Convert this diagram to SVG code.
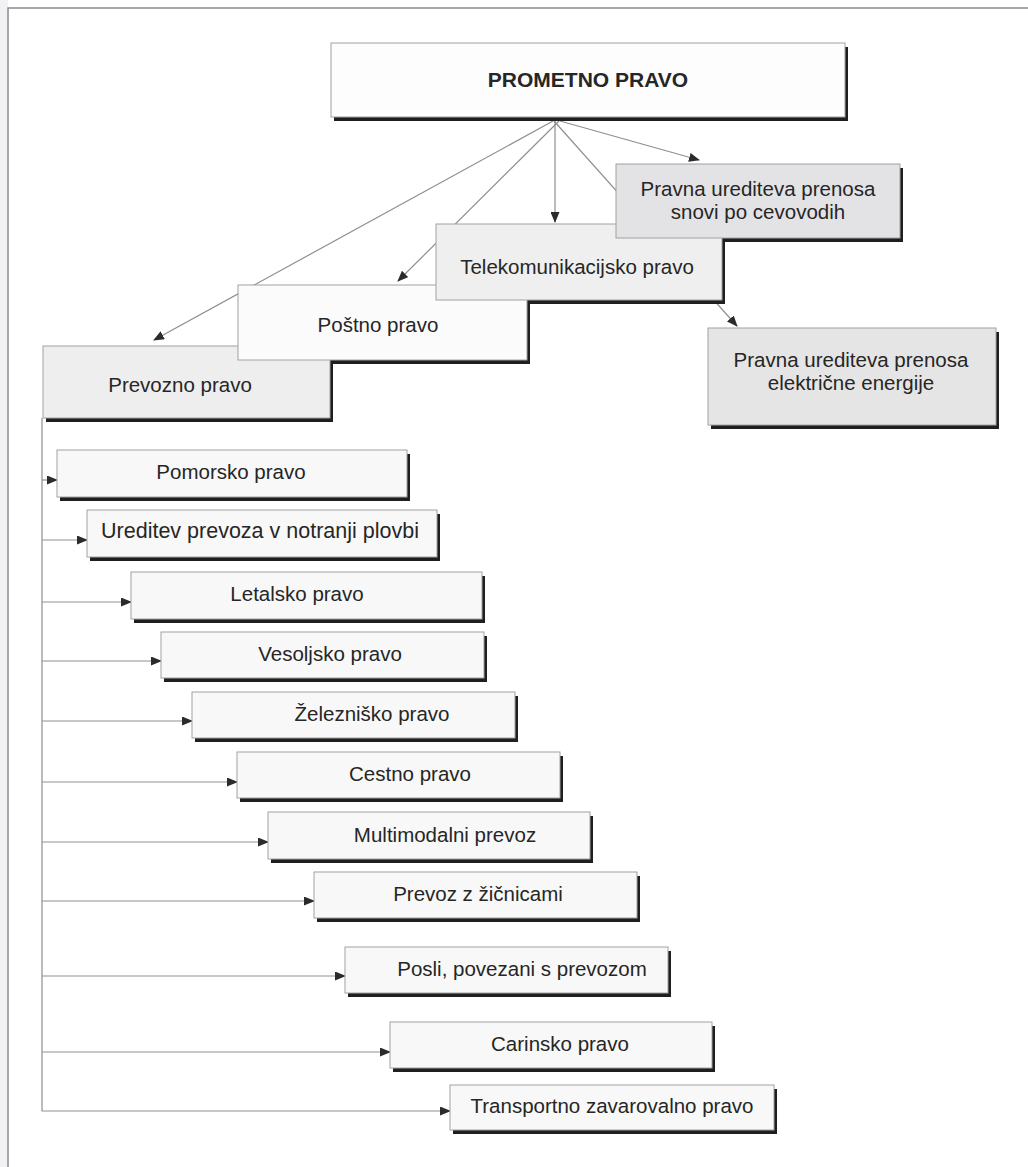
<svg xmlns="http://www.w3.org/2000/svg" width="1028" height="1167" viewBox="0 0 1028 1167">
<defs>
<marker id="ah" markerWidth="11" markerHeight="9" refX="10" refY="4.5" orient="auto" markerUnits="userSpaceOnUse"><path d="M0,0 L11,4.5 L0,9 z" fill="#2b2b2b"/></marker>
</defs>
<style>
.bx{stroke:#a2a2a2;stroke-width:1}
.sh{fill:#1f1f1f}
.t{font-family:"Liberation Sans",Arial,sans-serif;font-size:20.5px;fill:#262626;text-anchor:middle}
.tb{font-weight:bold;font-size:21px}
.cn{fill:none;stroke:#8f8f8f;stroke-width:1.2}
.ca{marker-end:url(#ah)}
</style>
<rect width="1028" height="1167" fill="#ffffff"/>
<rect x="0" y="0" width="8" height="1167" fill="#f2f2f5"/>
<path d="M8,1167 V8 H1028" fill="none" stroke="#8c8c8c" stroke-width="1.5"/>
<g id="connectors">
<path class="cn ca" d="M553,121 L154,340"/>
<path class="cn ca" d="M559,121 L398,281"/>
<path class="cn ca" d="M555,121 L555,222"/>
<path class="cn ca" d="M554,121 L737,326"/>
<path class="cn ca" d="M560,121 L699,160"/>
<path class="cn ca" d="M42,418 V1111 H450"/>
<path class="cn ca" d="M42,480 H57"/>
<path class="cn ca" d="M42,540 H87"/>
<path class="cn ca" d="M42,602 H131"/>
<path class="cn ca" d="M42,661 H161"/>
<path class="cn ca" d="M42,721 H192"/>
<path class="cn ca" d="M42,782 H237"/>
<path class="cn ca" d="M42,842 H268"/>
<path class="cn ca" d="M42,901 H314"/>
<path class="cn ca" d="M42,976 H345"/>
<path class="cn ca" d="M42,1052 H390"/>
</g>
<g id="shadows">
<rect class="sh" x="334" y="47" width="514" height="74"/>
<rect class="sh" x="619" y="168" width="284" height="74"/>
<rect class="sh" x="439" y="228" width="286" height="76"/>
<rect class="sh" x="241" y="289" width="289" height="75"/>
<rect class="sh" x="46" y="350" width="287" height="72"/>
<rect class="sh" x="711" y="332" width="288" height="97"/>
<rect class="sh" x="60" y="454" width="350" height="47"/>
<rect class="sh" x="90" y="514" width="350" height="47"/>
<rect class="sh" x="134" y="576" width="351" height="47"/>
<rect class="sh" x="164" y="636" width="323" height="46"/>
<rect class="sh" x="195" y="696" width="323" height="46"/>
<rect class="sh" x="240" y="756" width="323" height="46"/>
<rect class="sh" x="271" y="816" width="322" height="47"/>
<rect class="sh" x="317" y="876" width="323" height="46"/>
<rect class="sh" x="348" y="951" width="323" height="46"/>
<rect class="sh" x="393" y="1026" width="322" height="46"/>
<rect class="sh" x="453" y="1089" width="324" height="45"/>
</g>
<g id="n-prometno"><rect class="bx" x="331" y="43" width="514" height="74" fill="#fdfdfd"/><text class="t tb" x="588" y="87">PROMETNO PRAVO</text></g>
<g id="n-prevozno"><rect class="bx" x="43" y="346" width="287" height="72" fill="#eeeeee"/><text class="t" x="180" y="392">Prevozno pravo</text></g>
<g id="n-postno"><rect class="bx" x="238" y="285" width="289" height="75" fill="#fbfbfb"/><text class="t" x="378" y="332">Poštno pravo</text></g>
<g id="n-telekom"><rect class="bx" x="436" y="224" width="286" height="76" fill="#efefef"/><text class="t" x="577" y="274">Telekomunikacijsko pravo</text></g>
<g id="n-cevovodi"><rect class="bx" x="616" y="164" width="284" height="74" fill="#e3e3e5"/><text class="t" x="758" y="196">Pravna urediteva prenosa</text><text class="t" x="758" y="219">snovi po cevovodih</text></g>
<g id="n-elektrika"><rect class="bx" x="708" y="328" width="288" height="97" fill="#e5e5e5"/><text class="t" x="851" y="367">Pravna urediteva prenosa</text><text class="t" x="851" y="390">električne energije</text></g>
<g id="n-pomorsko"><rect class="bx" x="57" y="450" width="350" height="47" fill="#f8f8f8"/><text class="t" x="231" y="479">Pomorsko pravo</text></g>
<g id="n-ureditev"><rect class="bx" x="87" y="510" width="350" height="47" fill="#f8f8f8"/><text class="t" x="260" y="538" style="font-size:21.5px">Ureditev prevoza v notranji plovbi</text></g>
<g id="n-letalsko"><rect class="bx" x="131" y="572" width="351" height="47" fill="#f8f8f8"/><text class="t" x="297" y="601">Letalsko pravo</text></g>
<g id="n-vesoljsko"><rect class="bx" x="161" y="632" width="323" height="46" fill="#f8f8f8"/><text class="t" x="330" y="661">Vesoljsko pravo</text></g>
<g id="n-zelezni"><rect class="bx" x="192" y="692" width="323" height="46" fill="#f8f8f8"/><text class="t" x="372" y="721">Železniško pravo</text></g>
<g id="n-cestno"><rect class="bx" x="237" y="752" width="323" height="46" fill="#f8f8f8"/><text class="t" x="410" y="781">Cestno pravo</text></g>
<g id="n-multi"><rect class="bx" x="268" y="812" width="322" height="47" fill="#f8f8f8"/><text class="t" x="445" y="842">Multimodalni prevoz</text></g>
<g id="n-zicnice"><rect class="bx" x="314" y="872" width="323" height="46" fill="#f8f8f8"/><text class="t" x="478" y="901">Prevoz z žičnicami</text></g>
<g id="n-posli"><rect class="bx" x="345" y="947" width="323" height="46" fill="#f8f8f8"/><text class="t" x="522" y="976">Posli, povezani s prevozom</text></g>
<g id="n-carinsko"><rect class="bx" x="390" y="1022" width="322" height="46" fill="#f8f8f8"/><text class="t" x="560" y="1051">Carinsko pravo</text></g>
<g id="n-transport"><rect class="bx" x="450" y="1085" width="324" height="45" fill="#f8f8f8"/><text class="t" x="612" y="1113">Transportno zavarovalno pravo</text></g>
</svg>
